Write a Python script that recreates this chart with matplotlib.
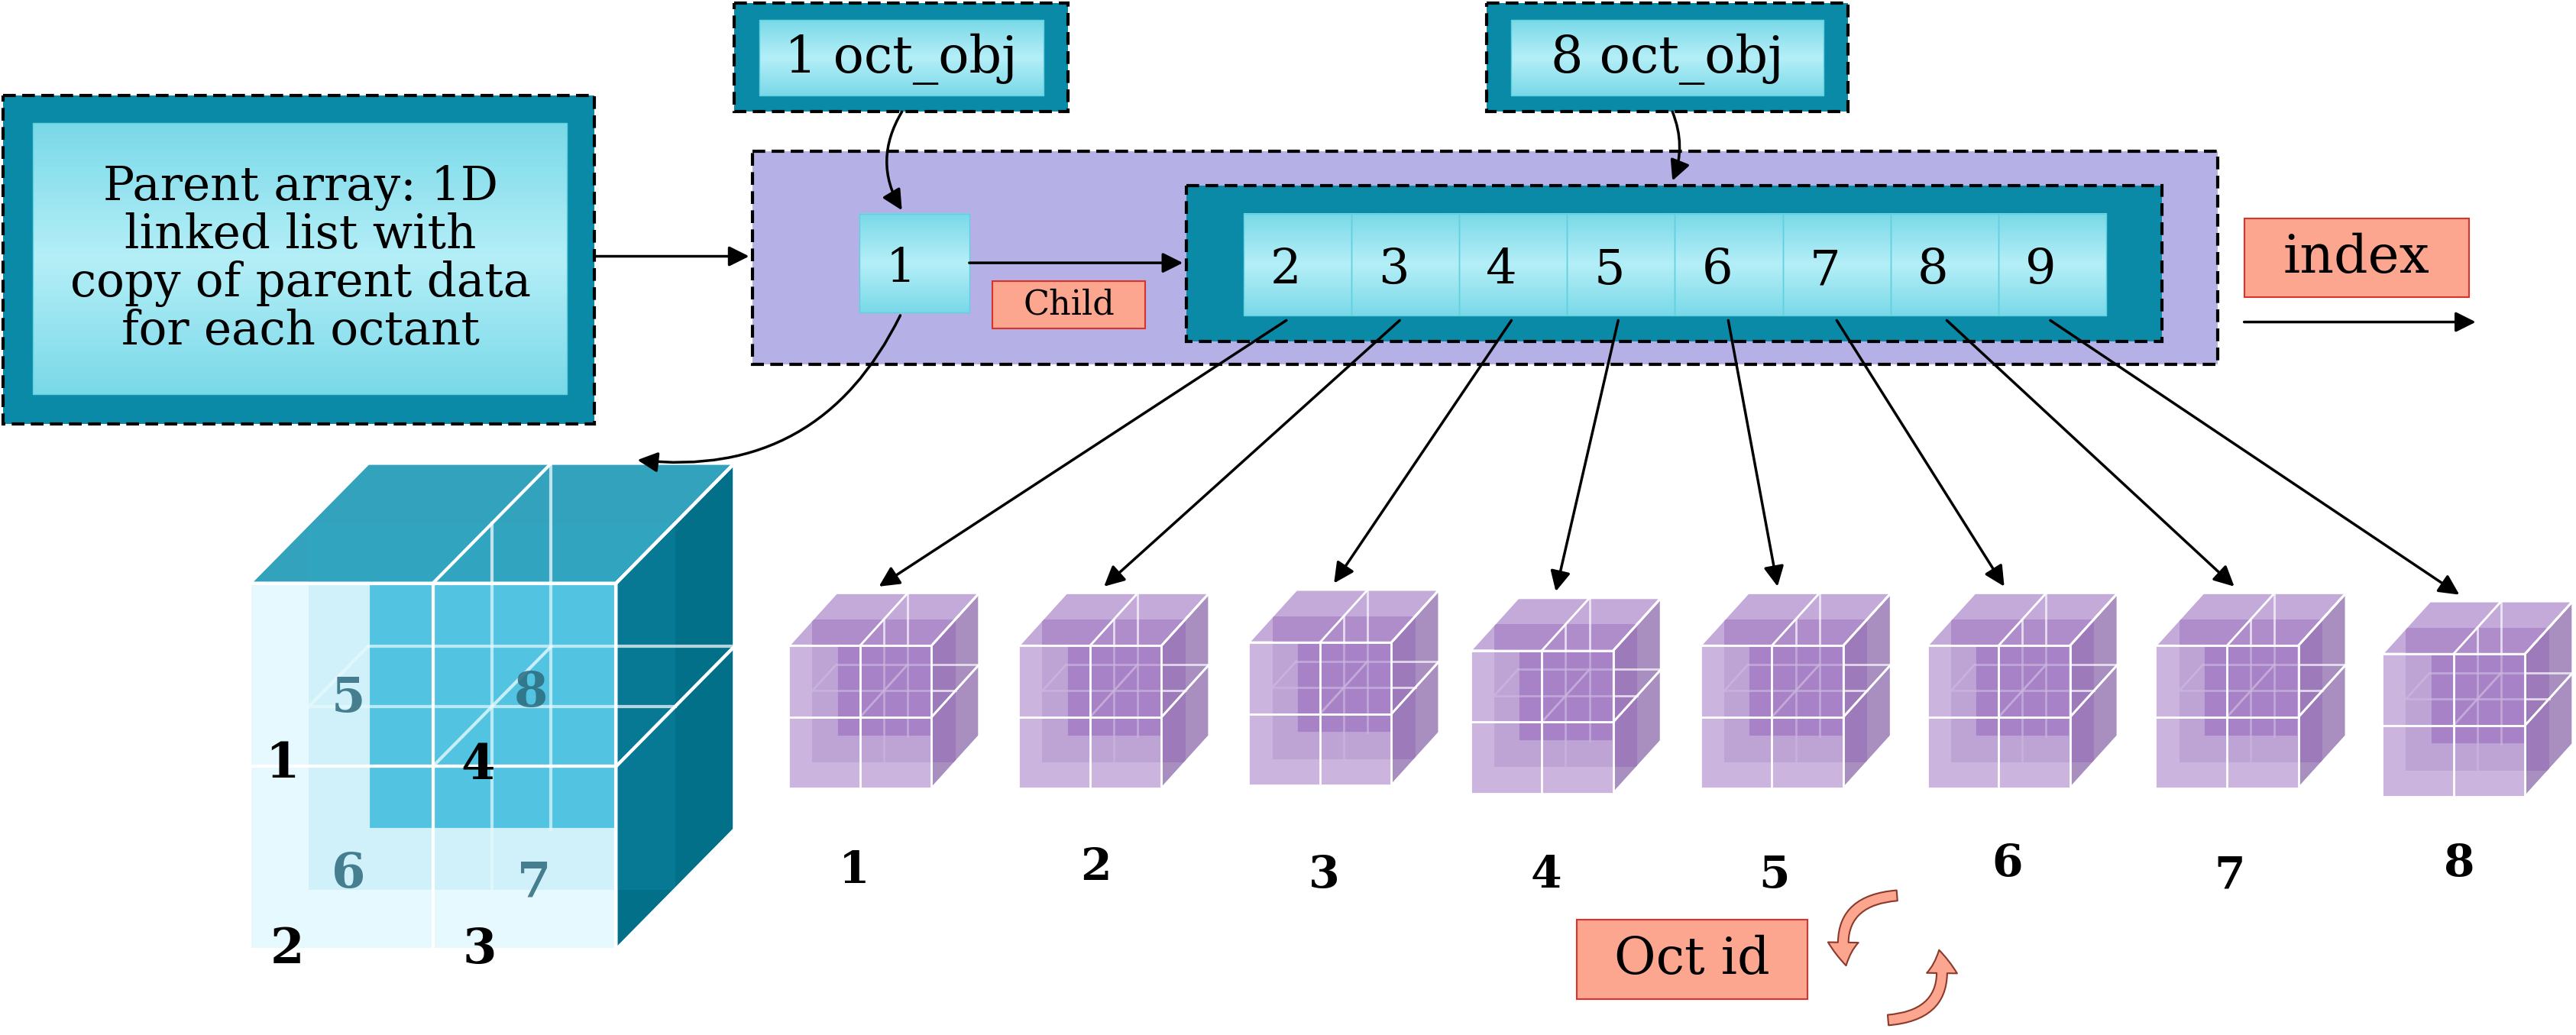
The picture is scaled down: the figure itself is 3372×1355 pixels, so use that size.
import matplotlib
matplotlib.use("Agg")
import matplotlib.pyplot as plt
import numpy as np
from matplotlib.patches import Rectangle, Polygon, FancyArrowPatch

# data
child_ids = [2, 3, 4, 5, 6, 7, 8, 9]
oct_ids = [1, 2, 3, 4, 5, 6, 7, 8]
parent_text = "Parent array: 1D\nlinked list with\ncopy of parent data\nfor each octant"
big_back_ids = ["5", "8", "6", "7"]
big_front_ids = ["1", "4", "2", "3"]

SERIF = ["DejaVu Serif"]
TEAL = "#0a8aa6"
SALMON = "#fca58f"
PURPLE_BG = "#b5b0e6"

fig = plt.figure(figsize=(33.72, 13.55), dpi=100)
ax = fig.add_axes([0, 0, 1, 1])
ax.set_xlim(0, 1568)
ax.set_ylim(630, 0)
ax.axis("off")


def grad_rect(x, y, w, h, c1="#b5eff8", c2="#7ad9e8", z=2):
    g = np.abs(np.linspace(0, 1, 50).reshape(-1, 1) - 0.5) * 2
    a = np.array(matplotlib.colors.to_rgb(c1))
    b = np.array(matplotlib.colors.to_rgb(c2))
    img = a[None, None, :] * (1 - g[..., None]) + b[None, None, :] * g[..., None]
    ax.imshow(img, extent=(x, x + w, y + h, y), aspect="auto", zorder=z)
    ax.add_patch(Rectangle((x, y), w, h, fill=False, ec="#5fd0e0", lw=1, zorder=z + 0.1))


def dashed_box(x, y, w, h, fc, z=1):
    ax.add_patch(Rectangle((x, y), w, h, fc=fc, ec="black", lw=3, ls=(0, (4, 2)), zorder=z))


def arrow(p0, p1, rad=0.0, lw=2.5, z=10):
    ax.add_patch(FancyArrowPatch(p0, p1, arrowstyle="-|>", mutation_scale=40, lw=lw,
                                 color="black", connectionstyle=f"arc3,rad={rad}", zorder=z,
                                 shrinkA=0, shrinkB=0))


def salmon_box(x, y, w, h, txt, fs):
    ax.add_patch(Rectangle((x, y), w, h, fc=SALMON, ec="#d9332a", lw=1.5, zorder=3))
    ax.text(x + w / 2, y + h / 2, txt, ha="center", va="center", fontsize=fs,
            family=SERIF, zorder=4)


# parent box
dashed_box(2, 58, 360, 200, TEAL)
grad_rect(20, 75, 325, 165)
ax.text(183, 158, parent_text, ha="center", va="center", fontsize=44, family=SERIF,
        linespacing=1.05, zorder=5)

# oct_obj boxes
for (x, w, t) in [(447, 203, "1 oct_obj"), (905, 220, "8 oct_obj")]:
    dashed_box(x, 2, w, 66, TEAL)
    grad_rect(x + 15, 12, w - 30, 46)
    ax.text(x + w / 2, 36, t, ha="center", va="center", fontsize=48, family=SERIF, zorder=5)

# index region
dashed_box(458, 92, 892, 130, PURPLE_BG)
grad_rect(523, 130, 67, 60, z=3)
ax.text(548, 163, "1", ha="center", va="center", fontsize=44, family=SERIF, zorder=5)
salmon_box(604, 171, 93, 29, "Child", 32)
dashed_box(722, 113, 594, 95, TEAL, z=2)
cell_w = (1282 - 757) / len(child_ids)
for i, cid in enumerate(child_ids):
    grad_rect(757 + i * cell_w, 130, cell_w, 62, z=3)
    ax.text(757 + i * cell_w + cell_w / 2 - 7, 165, str(cid), ha="center", va="center",
            fontsize=46, family=SERIF, zorder=5)
salmon_box(1366, 133, 137, 48, "index", 50)
arrow((1366, 196), (1507, 196))

# connecting arrows
arrow((362, 156), (456, 156))
arrow((549, 68), (549, 128), rad=0.3)
arrow((1018, 68), (1018, 110), rad=-0.2)
arrow((590, 160), (720, 160))
arrow((548, 192), (388, 280), rad=-0.35)


def cube(x, y, s, dx, dy, back, top, side, front, falpha, slab_alpha=0.35, lw=2.5, z=4):
    h = s / 2
    ax.add_patch(Rectangle((x + dx, y - dy), s, s, fc=back, ec="white", lw=lw, zorder=z))
    ax.add_patch(Polygon([(x, y), (x + s, y), (x + s + dx, y - dy), (x + dx, y - dy)],
                         fc=top, ec="white", lw=lw, zorder=z + 0.1))
    ax.add_patch(Polygon([(x + s, y), (x + s + dx, y - dy), (x + s + dx, y + s - dy), (x + s, y + s)],
                         fc=side, ec="white", lw=lw, zorder=z + 0.2))
    for t in (0, 0.5, 1):
        ox, oy = x + dx * t, y - dy * t
        ax.plot([ox + h, ox + h], [oy, oy + s], color="white", lw=lw, alpha=0.7, zorder=z + 0.3)
        ax.plot([ox, ox + s], [oy + h, oy + h], color="white", lw=lw, alpha=0.7, zorder=z + 0.3)
    for px in (x, x + h, x + s):
        ax.plot([px, px + dx], [y + h, y + h - dy], color="white", lw=lw, alpha=0.8, zorder=z + 0.3)
        ax.plot([px, px + dx], [y, y - dy], color="white", lw=lw, zorder=z + 0.3)
    for py in (y, y + h, y + s):
        ax.plot([x + s, x + s + dx], [py, py - dy], color="white", lw=lw, zorder=z + 0.3)
    ax.add_patch(Rectangle((x + dx / 2, y - dy / 2), s, s, fc=back, ec="none",
                           alpha=slab_alpha, zorder=z + 0.25))
    ax.add_patch(Rectangle((x, y), s, s, fc=front, ec="none", alpha=falpha, zorder=z + 0.4))
    ax.plot([x, x + s, x + s, x, x], [y, y, y + s, y + s, y], color="white", lw=lw, zorder=z + 0.5)
    ax.plot([x + h, x + h], [y, y + s], color="white", lw=lw, zorder=z + 0.5)
    ax.plot([x, x + s], [y + h, y + h], color="white", lw=lw, zorder=z + 0.5)


# big parent cube
cube(152, 355, 223, 72, 73, "#2bb3d6", "#33a2bd", "#037089", "#aeeefc", 0.3,
     slab_alpha=0.15, lw=3)
for t, (px, py) in zip(big_back_ids, [(212, 425), (323, 422), (212, 532), (325, 538)]):
    ax.text(px, py, t, ha="center", va="center", fontsize=46, family=SERIF, weight="bold",
            color="#2d6b7d", alpha=0.85, zorder=9)
for t, (px, py) in zip(big_front_ids, [(172, 465), (291, 466), (175, 578), (292, 578)]):
    ax.text(px, py, t, ha="center", va="center", fontsize=46, family=SERIF, weight="bold",
            color="black", zorder=9)

# small child cubes
cube_x = [480, 620, 760, 895, 1035, 1173, 1312, 1450]
cube_y = [393, 393, 391, 396, 393, 393, 393, 398]
label_xy = [(520, 530), (667, 528), (806, 533), (941, 533), (1080, 533), (1222, 526), (1357, 533), (1497, 526)]
arrow_start = [(783, 195), (852, 195), (920, 195), (985, 195), (1052, 195), (1118, 195), (1185, 195), (1248, 195)]
arrow_end = [(535, 357), (672, 357), (812, 355), (947, 360), (1082, 357), (1220, 357), (1360, 357), (1497, 362)]
for i, oid in enumerate(oct_ids):
    cube(cube_x[i], cube_y[i], 87, 29, 32, "#8a55b0", "#c4aad8", "#a88fbf", "#b596d0", 0.7, lw=2)
    ax.text(label_xy[i][0], label_xy[i][1], str(oid), ha="center", va="center", fontsize=42,
            family=SERIF, weight="bold", zorder=9)
    arrow(arrow_start[i], arrow_end[i], lw=2.5)

# Oct id and cycle
salmon_box(960, 560, 140, 48, "Oct id", 48)
cx, cy = 1152, 583
style = "simple,head_width=1.3,head_length=1,tail_width=0.45"
ax.add_patch(FancyArrowPatch((cx + 4, cy - 38), (cx - 28, cy + 6), connectionstyle="arc3,rad=0.6",
                             arrowstyle=style, mutation_scale=22, fc=SALMON, ec="#8a3a2a", lw=1.5, zorder=6))
ax.add_patch(FancyArrowPatch((cx - 4, cy + 38), (cx + 28, cy - 6), connectionstyle="arc3,rad=0.6",
                             arrowstyle=style, mutation_scale=22, fc=SALMON, ec="#8a3a2a", lw=1.5, zorder=6))

fig.savefig("out.png", dpi=100)
